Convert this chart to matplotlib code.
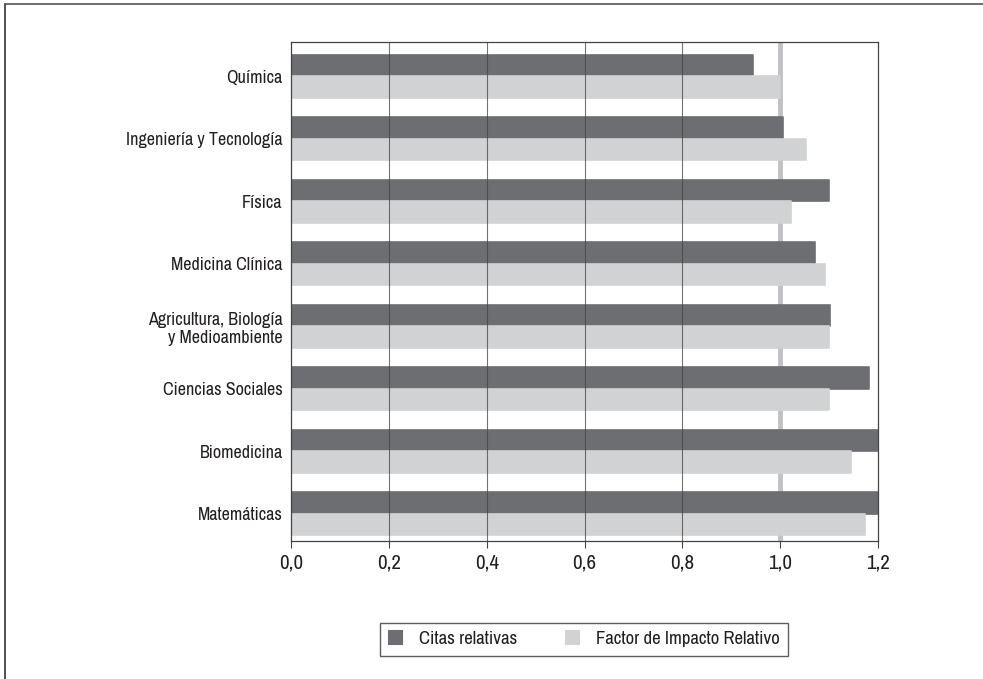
import matplotlib
matplotlib.use("Agg")
import matplotlib.pyplot as plt
import numpy as np
from matplotlib.patches import Patch
from matplotlib.lines import Line2D
from matplotlib import font_manager

categories = ["Química", "Ingeniería y Tecnología", "Física", "Medicina Clínica",
              "Agricultura, Biología\ny Medioambiente", "Ciencias Sociales",
              "Biomedicina", "Matemáticas"]
citas = [0.945, 1.005, 1.10, 1.072, 1.102, 1.182, 1.20, 1.20]
fir = [1.0, 1.053, 1.022, 1.092, 1.10, 1.10, 1.144, 1.174]
xticks = [0.0, 0.2, 0.4, 0.6, 0.8, 1.0, 1.2]
xticklabels = ["0,0", "0,2", "0,4", "0,6", "0,8", "1,0", "1,2"]
series_names = ["Citas relativas", "Factor de Impacto Relativo"]

avail = {f.name for f in font_manager.fontManager.ttflist}
fam = next((n for n in ["Archivo Narrow", "Roboto Condensed", "PT Sans Narrow"] if n in avail),
           "Liberation Sans")
plt.rcParams["font.family"] = [fam, "DejaVu Sans"]

dark = "#6d6e71"
light = "#d1d2d4"
txt = "#231f20"

fig = plt.figure(figsize=(9.83, 6.79), dpi=100)
ax = fig.add_axes([291/983, 1-541/679, (878-291)/983, (541-42)/679])

y = np.arange(len(categories))
h = 0.345
ax.barh(y - h/2, citas, height=h, color=dark, edgecolor=dark, linewidth=1.2,
        joinstyle="round", zorder=2)
ax.barh(y + h/2, fir, height=h, color=light, edgecolor=light, linewidth=1.2,
        joinstyle="round", zorder=2)

for xv in xticks[1:-2]:
    ax.axvline(xv, color="#444444", lw=0.8, zorder=3, alpha=0.75)
ax.axvline(1.0, color="#c2c2c6", lw=3.5, zorder=1)

ax.set_xlim(0, 1.2)
ax.set_ylim(7.44, -0.55)
ax.set_yticks(y)
ax.set_yticklabels(categories, fontsize=13, color=txt, ha="right", linespacing=1.15)
ax.tick_params(axis="y", length=0, pad=6)
ax.set_xticks(xticks)
ax.set_xticklabels(xticklabels, fontsize=15, color=txt)
ax.tick_params(axis="x", direction="out", length=5, width=0.8, color="#444444", pad=4)
for s in ax.spines.values():
    s.set_color("#444444")
    s.set_linewidth(0.9)

handles = [Patch(facecolor=dark, edgecolor=dark, joinstyle="round", linewidth=1.5),
           Patch(facecolor=light, edgecolor=light, joinstyle="round", linewidth=1.5)]
leg = fig.legend(handles, series_names, loc="center", bbox_to_anchor=(584/983, 1-639/679),
                 ncol=2, fontsize=13.5, frameon=True, fancybox=False, edgecolor="#333333",
                 handlelength=0.7, handleheight=0.7, columnspacing=2.6, handletextpad=0.9,
                 borderpad=0.45, labelcolor=txt)
leg.get_frame().set_linewidth(1.0)

fig.add_artist(Line2D([5/983, 5/983], [0, 1-4/679], transform=fig.transFigure,
                      color="#333333", lw=1.2))
fig.add_artist(Line2D([5/983, 1], [1-4/679, 1-4/679], transform=fig.transFigure,
                      color="#555555", lw=1.2))

fig.savefig("out.png", dpi=100)
